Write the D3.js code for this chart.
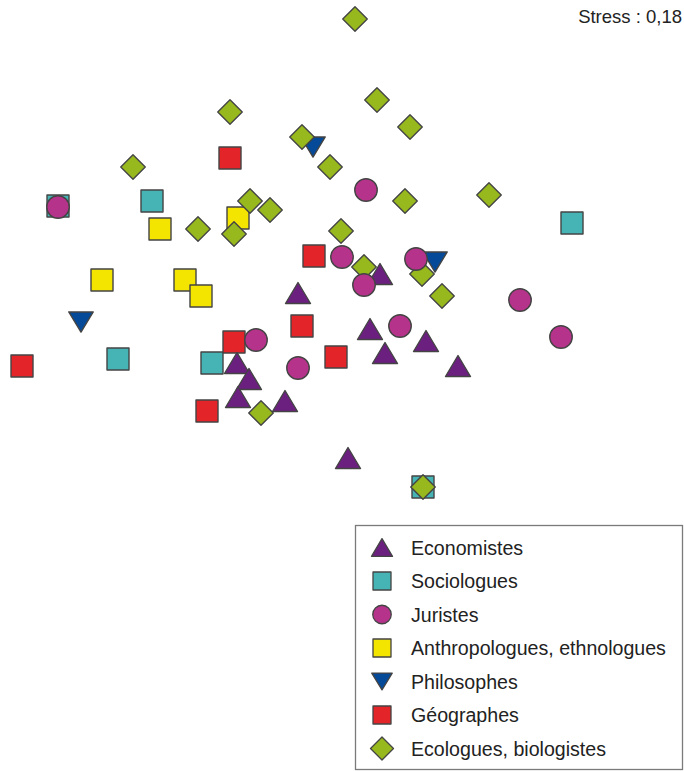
<!DOCTYPE html>
<html>
<head>
<meta charset="utf-8">
<script src="https://cdn.jsdelivr.net/npm/d3@7"></script>
<style>
  html, body { margin: 0; padding: 0; background: #fff; }
  svg { display: block; }
</style>
</head>
<body>
<div id="chart"></div>
<script>
// ---- Data: MDS coordinates (dimension 1, dimension 2) ----
const categories = ["Economistes", "Sociologues", "Juristes", "Anthropologues, ethnologues", "Philosophes", "Géographes", "Ecologues, biologistes"];

const economistes = [[-0.21,-0.215],[0.20,-0.12],[0.15,-0.395],[0.43,-0.455],[0.225,-0.515],[0.59,-0.58],[-0.515,-0.565],[-0.455,-0.645],[-0.51,-0.735],[-0.275,-0.755],[0.04,-1.04]];
const sociologues = [[-1.41,0.22],[-0.94,0.245],[1.16,0.135],[-1.11,-0.545],[-0.64,-0.565],[0.415,-1.185]];
const juristes = [[-1.41,0.215],[0.13,0.30],[0.01,-0.035],[0.38,-0.045],[0.12,-0.175],[0.90,-0.25],[1.105,-0.435],[0.30,-0.38],[-0.42,-0.45],[-0.21,-0.59]];
const anthropologues = [[-0.90,0.105],[-0.51,0.16],[-1.19,-0.15],[-0.775,-0.15],[-0.695,-0.23]];
const philosophes = [[-0.135,0.515],[-1.295,-0.36],[0.475,-0.06]];
const geographes = [[-0.55,0.46],[-0.13,-0.03],[-0.19,-0.38],[-0.53,-0.46],[-0.02,-0.535],[-1.59,-0.58],[-0.665,-0.805]];
const ecologues = [[0.075,1.155],[-0.55,0.69],[0.185,0.75],[0.35,0.615],[-0.19,0.565],[-0.05,0.415],[-1.035,0.415],[0.745,0.275],[0.325,0.245],[-0.45,0.245],[-0.35,0.20],[-0.71,0.105],[-0.53,0.08],[0.005,0.095],[0.12,-0.085],[0.41,-0.12],[0.51,-0.23],[-0.395,-0.815],[0.415,-1.185]];

const stressLabel = "Stress : 0,18";

// ---- Styles ----
const colors = {
  "Economistes": "#6b1f7e",
  "Sociologues": "#46b4b4",
  "Juristes": "#b5338a",
  "Anthropologues, ethnologues": "#f3e500",
  "Philosophes": "#044a98",
  "Géographes": "#e32428",
  "Ecologues, biologistes": "#97b91e"
};
const shapes = {
  "Economistes": "triUp",
  "Sociologues": "square",
  "Juristes": "circle",
  "Anthropologues, ethnologues": "square",
  "Philosophes": "triDown",
  "Géographes": "square",
  "Ecologues, biologistes": "diamond"
};
const seriesData = {
  "Economistes": economistes,
  "Sociologues": sociologues,
  "Juristes": juristes,
  "Anthropologues, ethnologues": anthropologues,
  "Philosophes": philosophes,
  "Géographes": geographes,
  "Ecologues, biologistes": ecologues
};
// drawing order (later on top)
const drawOrder = ["Sociologues", "Anthropologues, ethnologues", "Philosophes", "Géographes", "Ecologues, biologistes", "Economistes", "Juristes"];

const W = 684, H = 771;
const svg = d3.select("#chart").append("svg").attr("width", W).attr("height", H);

const x = d3.scaleLinear().domain([-1.7, 1.7]).range([0, 680]);
const y = d3.scaleLinear().domain([-1.5, 1.25]).range([550, 0]);

function shapePath(type, s) {
  const h = s / 2;
  switch (type) {
    case "square": return `M${-h},${-h}H${h}V${h}H${-h}Z`;
    case "circle": { const p = d3.path(); p.arc(0, 0, h, 0, 2 * Math.PI); p.closePath(); return p.toString(); }
    case "triUp": { const th = s * 0.84; return `M0,${-th/2}L${h},${th/2}L${-h},${th/2}Z`; }
    case "triDown": { const th = s * 0.82; return `M${-h},${-th/2}L${h},${-th/2}L0,${th/2}Z`; }
    case "diamond": { const d = s * 0.5; return `M0,${-d}L${d},0L0,${d}L${-d},0Z`; }
  }
}
const plotSize = { square: 22, circle: 22.5, triUp: 25, triDown: 24.5, diamond: 24.5 };

const plot = svg.append("g");
drawOrder.forEach(cat => {
  const type = shapes[cat];
  plot.append("g").selectAll("path")
    .data(seriesData[cat])
    .join("path")
    .attr("transform", d => `translate(${x(d[0])},${y(d[1])})`)
    .attr("d", shapePath(type, plotSize[type]))
    .attr("fill", colors[cat])
    .attr("stroke", "#444")
    .attr("stroke-width", 1.4)
    .attr("stroke-linejoin", "round");
});

// Stress label
svg.append("text")
  .attr("x", 682).attr("y", 23)
  .attr("text-anchor", "end")
  .attr("font-family", "Liberation Sans, Arial, sans-serif")
  .attr("font-size", 18.5)
  .attr("fill", "#222")
  .text(stressLabel);

// Legend
const legend = svg.append("g");
legend.append("rect")
  .attr("x", 355.5).attr("y", 525.5)
  .attr("width", 327).attr("height", 244)
  .attr("fill", "#fff")
  .attr("stroke", "#7a7a7a")
  .attr("stroke-width", 1.3);

const legSize = { square: 18, circle: 18.5, triUp: 21, triDown: 20.5, diamond: 23 };
const rowY = d3.scaleLinear().domain([0, 6]).range([547.5, 748.5]);
const items = legend.selectAll("g.item").data(categories).join("g")
  .attr("class", "item")
  .attr("transform", (d, i) => `translate(0,${rowY(i)})`);
items.append("path")
  .attr("transform", "translate(382,0)")
  .attr("d", d => shapePath(shapes[d], legSize[shapes[d]]))
  .attr("fill", d => colors[d])
  .attr("stroke", "#444")
  .attr("stroke-width", 1.3)
  .attr("stroke-linejoin", "round");
items.append("text")
  .attr("x", 411).attr("y", 7.3)
  .attr("font-family", "Liberation Sans, Arial, sans-serif")
  .attr("font-size", 19.6)
  .attr("fill", "#222")
  .text(d => d);
</script>
</body>
</html>
